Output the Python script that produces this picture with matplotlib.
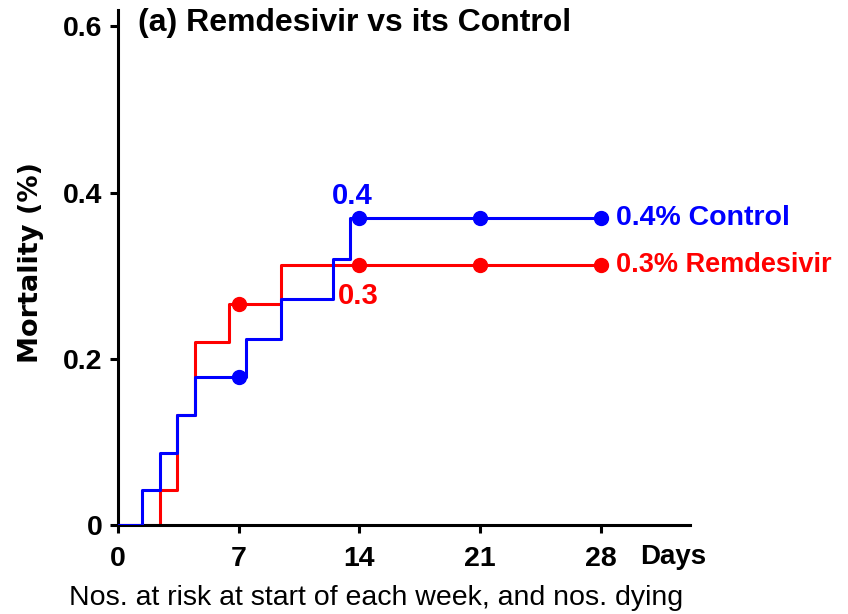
import matplotlib.pyplot as plt
import numpy as np

plt.rcParams['font.family'] = ['Liberation Sans', 'DejaVu Sans']

# step curves: day of each jump and cumulative mortality after it
ctrl_days = [0, 1.4, 2.45, 3.45, 4.45, 7.45, 9.45, 12.45, 13.45, 28]
ctrl_mort = [0, 0.042, 0.087, 0.132, 0.178, 0.224, 0.272, 0.320, 0.369, 0.369]
rem_days = [0, 2.45, 3.45, 4.45, 6.45, 9.45, 28]
rem_mort = [0, 0.042, 0.132, 0.220, 0.266, 0.313, 0.313]

week_days = [7, 14, 21, 28]
ctrl_week = [0.178, 0.369, 0.369, 0.369]
rem_week = [0.266, 0.313, 0.313, 0.313]

x_ticks = [0, 7, 14, 21, 28]
x_labels = ["0", "7", "14", "21", "28"]
y_ticks = [0, 0.2, 0.4, 0.6]
y_labels = ["0", "0.2", "0.4", "0.6"]

blue = "#0000ff"
red = "#ff0000"

fig = plt.figure(figsize=(8.48, 6.14), dpi=100)
ax = fig.add_axes([0.139, 0.145, 0.675, 0.839])

ax.step(rem_days, rem_mort, where="post", color=red, lw=2.2, zorder=2)
ax.step(ctrl_days, ctrl_mort, where="post", color=blue, lw=2.2, zorder=3)
ax.plot(week_days, rem_week, "o", color=red, ms=10, zorder=4)
ax.plot(week_days, ctrl_week, "o", color=blue, ms=10, zorder=4)

ax.text(13.6, 0.379, "0.4", color=blue, fontsize=21, fontweight="bold",
        ha="center", va="bottom")
ax.text(12.75, 0.276, "0.3", color=red, fontsize=21, fontweight="bold",
        ha="left", va="center")
ax.text(28.9, ctrl_week[-1], "0.4% Control", color=blue, fontsize=20.5,
        fontweight="bold", ha="left", va="center")
ax.text(28.9, rem_week[-1], "0.3% Remdesivir", color=red, fontsize=19.5,
        fontweight="bold", ha="left", va="center")

ax.set_xlim(0, 33.2)
ax.set_ylim(0, 0.62)
ax.set_xticks(x_ticks)
ax.set_xticklabels(x_labels)
ax.set_yticks(y_ticks)
ax.set_yticklabels(y_labels)
for lab in ax.get_xticklabels() + ax.get_yticklabels():
    lab.set_fontweight("bold")
ax.tick_params(labelsize=20.5, width=2.2, length=6, direction="out")
ax.tick_params(axis="x", pad=9)
ax.tick_params(axis="y", pad=5)
for s in ["top", "right"]:
    ax.spines[s].set_visible(False)
for s in ["left", "bottom"]:
    ax.spines[s].set_linewidth(2.2)

fig.text(0.163, 0.963, "(a) Remdesivir vs its Control", fontsize=23,
         fontweight="bold", ha="left", va="center")
fig.text(0.037, 0.573, "Mortality (%)", fontsize=19.5, fontweight="bold",
         family="DejaVu Sans", rotation=90, ha="center", va="center")
fig.text(0.755, 0.093, "Days", fontsize=20, fontweight="bold", ha="left", va="center")
fig.text(0.443, 0.026, "Nos. at risk at start of each week, and nos. dying",
         fontsize=20.5, ha="center", va="center")

fig.savefig("out.png", dpi=100)
